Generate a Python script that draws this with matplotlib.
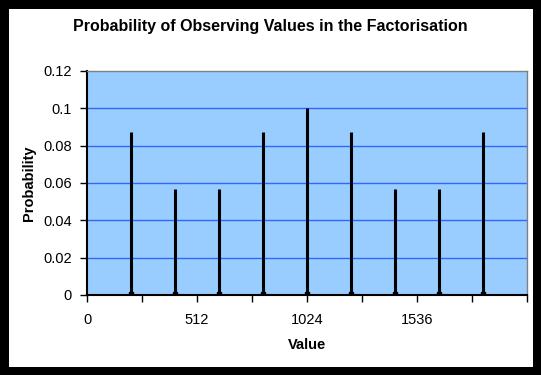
import matplotlib
matplotlib.use("Agg")
import matplotlib.pyplot as plt
from matplotlib.ticker import MultipleLocator, FixedLocator

plt.rcParams['font.family'] = ['Liberation Sans', 'DejaVu Sans']

values = [204.8, 409.6, 614.4, 819.2, 1024, 1228.8, 1433.6, 1638.4, 1843.2]
probs = [0.0875, 0.0568, 0.0568, 0.0875, 0.1, 0.0875, 0.0568, 0.0568, 0.0875]
xticks = [0, 512, 1024, 1536]
yticks = [0, 0.02, 0.04, 0.06, 0.08, 0.1, 0.12]
ylabels = ['0', '0.02', '0.04', '0.06', '0.08', '0.1', '0.12']

fig = plt.figure(figsize=(5.41, 3.75), dpi=100)
fig.patch.set_facecolor('white')
fig.patch.set_edgecolor('black')
fig.patch.set_linewidth(11)

ax = fig.add_axes([87/541, 1 - 295/375, (527-87)/541, (295-71)/375])
ax.set_facecolor('#99CCFF')

for y in yticks[1:-1]:
    ax.axhline(y, color='#3366FF', lw=1, zorder=1)

ax.vlines(values, 0, probs, color='black', lw=2.2, zorder=3)
ax.plot(values, [0.0005]*len(values), 's', color='black', ms=2.5, zorder=4)

ax.set_xlim(0, 2048)
ax.set_ylim(0, 0.12)
ax.xaxis.set_major_locator(FixedLocator(xticks))
ax.xaxis.set_minor_locator(MultipleLocator(256))
ax.set_yticks(yticks)
ax.set_yticklabels(ylabels)

for s in ['top', 'right']:
    ax.spines[s].set_color('#808080')
    ax.spines[s].set_linewidth(1)
for s in ['left', 'bottom']:
    ax.spines[s].set_color('black')
    ax.spines[s].set_linewidth(1.5)

ax.tick_params(axis='both', which='both', direction='out', length=5, width=1,
               labelsize=10.5, color='black')
ax.tick_params(axis='x', which='major', pad=8)
ax.tick_params(axis='y', pad=6)

ax.set_xlabel('Value', fontsize=10.5, fontweight='bold', labelpad=8)
ax.set_ylabel('Probability', fontsize=10.5, fontweight='bold', labelpad=5)
fig.text(0.5, 1 - 27/375, 'Probability of Observing Values in the Factorisation',
         ha='center', va='center', fontsize=11.5, fontweight='bold')

fig.savefig('out.png', dpi=100, facecolor=fig.get_facecolor(), edgecolor=fig.get_edgecolor())
